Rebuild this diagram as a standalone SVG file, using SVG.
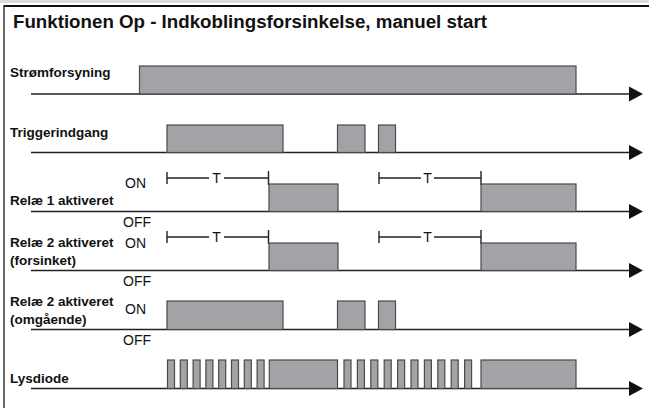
<svg xmlns="http://www.w3.org/2000/svg" width="649" height="408" viewBox="0 0 649 408">
<style>
.t{font-family:"Liberation Sans",Arial,sans-serif;fill:#111}
.lb{font-size:13.5px;font-weight:bold}
.st{font-size:14px}
.ax{stroke:#222;stroke-width:1.6;fill:none}
.ah{fill:#111}
.p{fill:#a2a3a7;stroke:#4a4a4a;stroke-width:1.2}
.tm{stroke:#222;stroke-width:1.4;fill:none}
</style>
<rect x="0" y="0" width="649" height="408" fill="#fff"/>
<rect x="0" y="0" width="649" height="3" fill="#dcdcdc"/>
<line x1="4" y1="6" x2="649" y2="6" stroke="#111" stroke-width="2"/>
<line x1="4" y1="5" x2="4" y2="408" stroke="#333" stroke-width="1.5"/>
<text id="title" class="t" x="13" y="27.5" font-size="17.5" font-weight="bold" textLength="474" lengthAdjust="spacingAndGlyphs">Funktionen Op - Indkoblingsforsinkelse, manuel start</text>

<g id="connectors">
<line class="ax" x1="31" y1="94" x2="630" y2="94"/><polygon class="ah" points="629,86.5 643,94 629,101.5"/>
<line class="ax" x1="31" y1="152.5" x2="630" y2="152.5"/><polygon class="ah" points="629,145 643,152.5 629,160"/>
<line class="ax" x1="31" y1="211.5" x2="630" y2="211.5"/><polygon class="ah" points="629,204 643,211.5 629,219"/>
<line class="ax" x1="31" y1="270.5" x2="630" y2="270.5"/><polygon class="ah" points="629,263 643,270.5 629,278"/>
<line class="ax" x1="31" y1="329.5" x2="630" y2="329.5"/><polygon class="ah" points="629,322 643,329.5 629,337"/>
<line class="ax" x1="31" y1="388.5" x2="630" y2="388.5"/><polygon class="ah" points="629,381 643,388.5 629,396"/>
</g>

<g id="row-stromforsyning">
<text class="t lb" x="10" y="77">Strømforsyning</text>
<rect class="p" x="139.5" y="66" width="436.5" height="28"/>
</g>

<g id="row-trigger">
<text class="t lb" x="10" y="137">Triggerindgang</text>
<rect class="p" x="167" y="125" width="116" height="27.5"/>
<rect class="p" x="337.5" y="125" width="27.5" height="27.5"/>
<rect class="p" x="378.5" y="125" width="17" height="27.5"/>
</g>

<g id="row-rele1">
<text class="t lb" x="10" y="205">Relæ 1 aktiveret</text>
<text class="t st" x="125" y="188">ON</text>
<text class="t st" x="123" y="227">OFF</text>
<path class="tm" d="M167,172 V184 M167,178 H209 M224,178 H268.5 M268.5,171 V185"/>
<text class="t st" x="216.5" y="183" text-anchor="middle">T</text>
<path class="tm" d="M379,172 V184 M379,178 H421 M434,178 H481 M481,171 V185"/>
<text class="t st" x="427.5" y="183" text-anchor="middle">T</text>
<rect class="p" x="269" y="184" width="69" height="27.5"/>
<rect class="p" x="481" y="184" width="95" height="27.5"/>
</g>

<g id="row-rele2-forsinket">
<text class="t lb" x="10" y="247">Relæ 2 aktiveret</text>
<text class="t lb" x="10" y="265">(forsinket)</text>
<text class="t st" x="125" y="248">ON</text>
<text class="t st" x="123" y="286">OFF</text>
<path class="tm" d="M167,231 V243 M167,237 H209 M224,237 H268.5 M268.5,230 V244"/>
<text class="t st" x="216.5" y="242" text-anchor="middle">T</text>
<path class="tm" d="M379,231 V243 M379,237 H421 M434,237 H481 M481,230 V244"/>
<text class="t st" x="427.5" y="242" text-anchor="middle">T</text>
<rect class="p" x="269" y="243" width="69" height="27.5"/>
<rect class="p" x="481" y="243" width="95" height="27.5"/>
</g>

<g id="row-rele2-omgaende">
<text class="t lb" x="10" y="306">Relæ 2 aktiveret</text>
<text class="t lb" x="10" y="324">(omgående)</text>
<text class="t st" x="125" y="314">ON</text>
<text class="t st" x="123" y="345">OFF</text>
<rect class="p" x="167" y="301" width="116" height="28.5"/>
<rect class="p" x="337.5" y="301" width="27.5" height="28.5"/>
<rect class="p" x="378.5" y="301" width="17" height="28.5"/>
</g>

<g id="row-lysdiode">
<text class="t lb" x="10" y="383">Lysdiode</text>
<rect class="p" x="167.5" y="360" width="7" height="28.5"/>
<rect class="p" x="180.3" y="360" width="7" height="28.5"/>
<rect class="p" x="193.1" y="360" width="7" height="28.5"/>
<rect class="p" x="205.9" y="360" width="7" height="28.5"/>
<rect class="p" x="218.7" y="360" width="7" height="28.5"/>
<rect class="p" x="231.5" y="360" width="7" height="28.5"/>
<rect class="p" x="244.3" y="360" width="7" height="28.5"/>
<rect class="p" x="257.1" y="360" width="7" height="28.5"/>
<rect class="p" x="269.3" y="360" width="68.2" height="28.5"/>
<rect class="p" x="344" y="360" width="7" height="28.5"/>
<rect class="p" x="357.4" y="360" width="7" height="28.5"/>
<rect class="p" x="370.8" y="360" width="7" height="28.5"/>
<rect class="p" x="384.2" y="360" width="7" height="28.5"/>
<rect class="p" x="397.6" y="360" width="7" height="28.5"/>
<rect class="p" x="411" y="360" width="7" height="28.5"/>
<rect class="p" x="424.4" y="360" width="7" height="28.5"/>
<rect class="p" x="437.8" y="360" width="7" height="28.5"/>
<rect class="p" x="451.2" y="360" width="7" height="28.5"/>
<rect class="p" x="464.6" y="360" width="7" height="28.5"/>
<rect class="p" x="481" y="360" width="95" height="28.5"/>
</g>
</svg>
